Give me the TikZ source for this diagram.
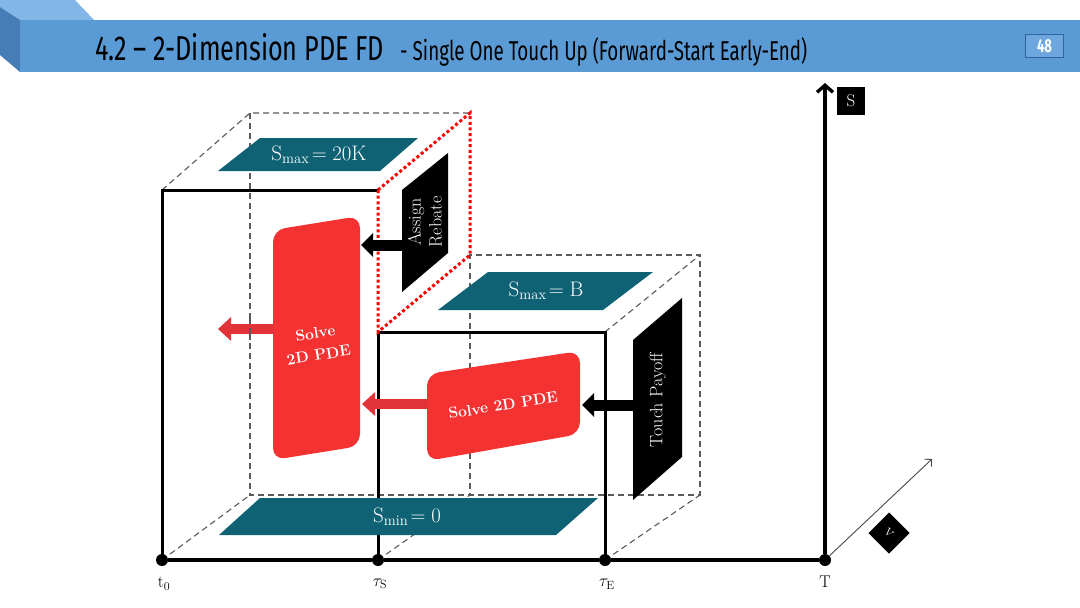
\documentclass[tikz,border=0pt]{standalone}
\usepackage{fontspec}
\usepackage{graphicx}
\usetikzlibrary{arrows.meta}
\newfontfamily\titlefont{Fira Sans}
\definecolor{hdr}{RGB}{91,155,213}
\definecolor{hdrtop}{RGB}{130,182,230}
\definecolor{hdrside}{RGB}{70,125,182}
\definecolor{pgfill}{RGB}{110,166,222}
\definecolor{pgedge}{RGB}{50,100,160}
\definecolor{tealbox}{RGB}{14,98,116}
\definecolor{redbox}{RGB}{244,50,50}
\definecolor{redarr}{RGB}{226,52,56}
\definecolor{dashgray}{RGB}{90,90,90}
\begin{document}
\begin{tikzpicture}[x=1pt,y=-1pt,
  dashedge/.style={draw=dashgray, line width=1.1pt, dash pattern=on 6pt off 4pt},
  frontedge/.style={draw=black, line width=3pt},
  dotedge/.style={draw=red, line width=3pt, dash pattern=on 3pt off 2.6pt},
  axisline/.style={draw=black, line width=3.4pt},
  axdot/.style={circle, fill=black, minimum size=12pt, inner sep=0pt},
  axlabel/.style={font=\fontsize{17}{20}\selectfont, inner sep=0pt},
  tealtxt/.style={text=white, font=\fontsize{21}{24}\selectfont, inner sep=0pt},
  blacktxt/.style={text=white, font=\fontsize{18}{21}\selectfont, align=center, rotate=90, inner sep=0pt},
  redtxt/.style={text=white, font=\bfseries\fontsize{15.5}{22}\selectfont, align=center, rotate=9, inner sep=0pt},
  redarrow/.style={draw=redarr, line width=10pt, -{Triangle[length=13pt,width=23pt]}},
  blkarrow/.style={draw=black, line width=11pt, -{Triangle[length=12pt,width=23pt]}}
]
\useasboundingbox (0,0) rectangle (1080,608);
\fill[white] (0,0) rectangle (1080,608);

% ---------- header ----------
\fill[hdrtop] (0,0) -- (75,0) -- (94,20) -- (20,20) -- (0,7) -- cycle;
\fill[hdrside] (0,7) -- (20,20) -- (20,72) -- (0,55) -- cycle;
\fill[hdr] (20,20) rectangle (1080,72);
\node[anchor=base west, inner sep=0pt] (title) at (95,60)
  {\resizebox{289pt}{27pt}{\titlefont 4.2 – 2-Dimension PDE FD}};
\node[anchor=base west, inner sep=0pt] (subtitle) at (400,60)
  {\resizebox{407pt}{23pt}{\titlefont - Single One Touch Up (Forward-Start\ Early-End)}};
\node[fill=pgfill, draw=pgedge, line width=1.5pt, minimum width=38pt, minimum height=23pt, inner sep=0pt] (pg) at (1044.5,46)
  {\color{white}\resizebox{15pt}{13pt}{\titlefont\bfseries 48}};

% ---------- coordinates ----------
\coordinate (F1) at (162,190);
\coordinate (F2) at (378,190);
\coordinate (B1) at (250,113);
\coordinate (B2) at (470,113);
\coordinate (B3) at (470,255);
\coordinate (B4) at (700,255);
\coordinate (S1) at (378,332);
\coordinate (S2) at (605,332);
\coordinate (BB1) at (250,495);
\coordinate (BB2) at (470,495);
\coordinate (BB3) at (700,495);
\coordinate (P0) at (162,560);
\coordinate (PS) at (378,560);
\coordinate (PE) at (605,560);
\coordinate (Stop) at (825,83);
\coordinate (Vend) at (932,459);

% ---------- hidden (dashed) edges ----------
\draw[dashedge] (F1) -- (B1) -- (B2);
\draw[dashedge] (B1) -- (BB1) -- (BB3) -- (B4) -- (B3) -- (BB2);
\draw[dashedge] (S2) -- (B4);
\draw[dashedge] (P0) -- (BB1);
\draw[dashedge] (PS) -- (BB2);
\draw[dashedge] (PE) -- (BB3);

% ---------- upper boundary planes ----------
\fill[tealbox] (260,138) -- (418,138) -- (380,171) -- (218,171) -- cycle;
\node[tealtxt] (smax1) at (319,155) {$\mathrm{S}_{\mathrm{max}}\!=20\mathrm{K}$};
\fill[tealbox] (488,272) -- (653,272) -- (603,310) -- (438,310) -- cycle;
\node[tealtxt] (smax2) at (546,291) {$\mathrm{S}_{\mathrm{max}}\!=\mathrm{B}$};

% ---------- black condition panels ----------
\fill[black] (402,190) -- (448,153) -- (448,253) -- (402,292) -- cycle;
\node[blacktxt] (rebate) at (425,222) {Assign\\Rebate};
\fill[black] (633,340) -- (682,298) -- (682,457) -- (633,500) -- cycle;
\node[blacktxt] (payoff) at (658,400) {Touch Payoff};

% ---------- red solver panels ----------
\fill[redbox, rounded corners=12pt] (273,230) -- (360,216) -- (360,446) -- (273,460) -- cycle;
\node[redtxt] (solveA) at (317,344) {Solve\\2D PDE};
\fill[redbox, rounded corners=12pt] (427,374) -- (580,351) -- (580,434) -- (427,461) -- cycle;
\node[redtxt] (solveB) at (503,405) {Solve 2D PDE};

% ---------- front (solid) edges ----------
\draw[frontedge] (P0) -- (F1) -- (F2);
\draw[frontedge] (PS) -- (S1) -- (S2) -- (PE);
\draw[dotedge] (F2) -- (B2) -- (B3) -- (S1) -- cycle;

% ---------- lower boundary plane (in front) ----------
\fill[tealbox] (260,498) -- (598,498) -- (556,535) -- (219,535) -- cycle;
\node[tealtxt] (smin) at (407,517) {$\mathrm{S}_{\mathrm{min}}\!=0$};

% ---------- arrows ----------
\coordinate (ra1s) at (274,329);
\coordinate (ra1e) at (218,329);
\coordinate (ra2s) at (428,404);
\coordinate (ra2e) at (362,404);
\coordinate (ba1s) at (403,245);
\coordinate (ba1e) at (361,245);
\coordinate (ba2s) at (634,405);
\coordinate (ba2e) at (582,405);
\draw[redarrow] (ra1s) -- (ra1e);
\draw[redarrow] (ra2s) -- (ra2e);
\draw[blkarrow] (ba1s) -- (ba1e);
\draw[blkarrow] (ba2s) -- (ba2e);
\draw[dashedge] (250,318) -- (250,340);

% ---------- axes ----------
\node[axdot] (t0) at (162,560) {};
\node[axdot] (tS) at (378,560) {};
\node[axdot] (tE) at (605,560) {};
\node[axdot] (T) at (825,560) {};
\draw[axisline] (t0) -- (tS) -- (tE) -- (T);
\draw[axisline, -{Straight Barb[length=7pt,width=16pt]}] (T) -- (Stop);
\draw[draw=dashgray!80!black, line width=0.9pt, -{Straight Barb[length=5pt,width=10pt]}] (T) -- (Vend);
\node[fill=black, text=white, minimum width=28pt, minimum height=28pt, inner sep=0pt, font=\fontsize{17}{20}\selectfont] (slab) at (851,101) {S};
\node[fill=black, text=white, minimum width=29pt, minimum height=29pt, inner sep=0pt, rotate=-45, font=\fontsize{17}{20}\selectfont] (vlab) at (889,533) {v};

\node[axlabel] (l0) at (164,584) {$\mathrm{t}_0$};
\node[axlabel] (lS) at (380,584) {$\tau_{\mathrm{S}}$};
\node[axlabel] (lE) at (607,584) {$\tau_{\mathrm{E}}$};
\node[axlabel] (lT) at (825,582) {T};
\end{tikzpicture}
\end{document}
